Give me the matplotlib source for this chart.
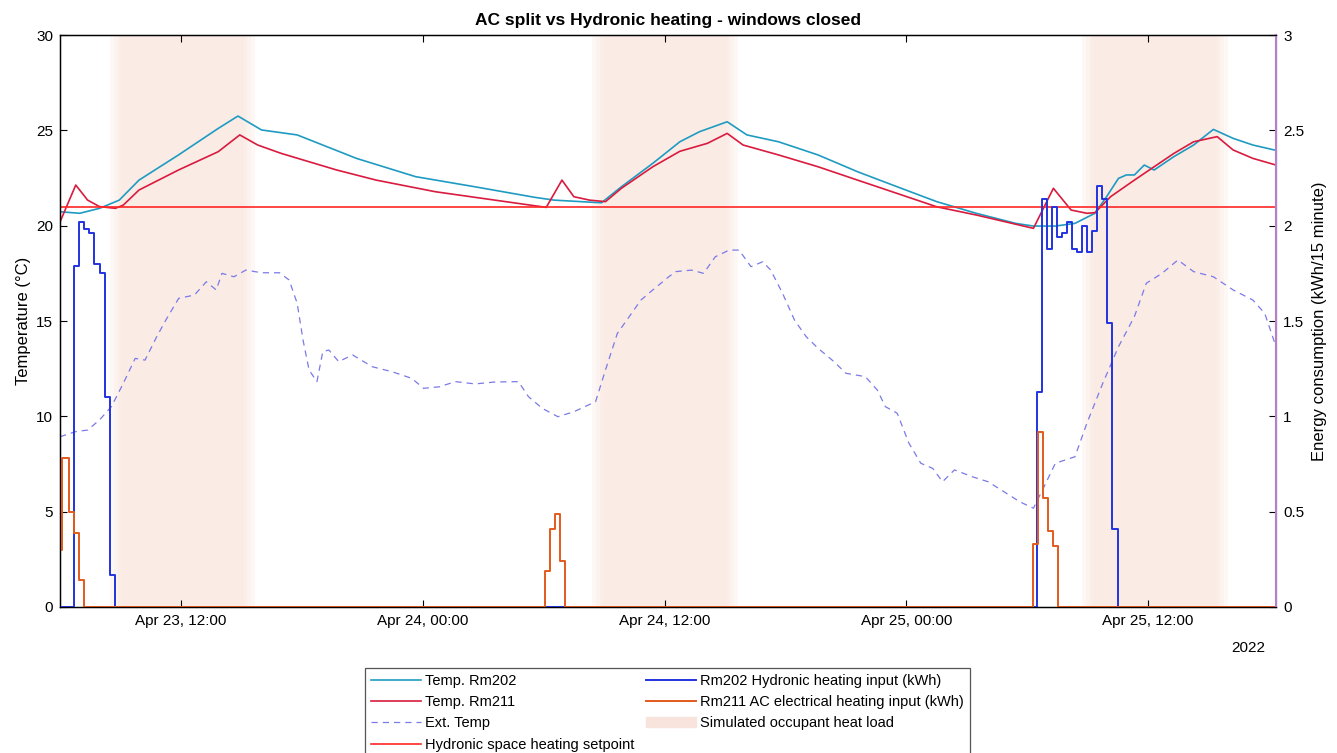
import pandas as pd
import matplotlib
matplotlib.use("Agg")
import matplotlib.pyplot as plt
import matplotlib.dates as mdates
from matplotlib.patches import Patch

plt.rcParams['font.family'] = ['Liberation Sans', 'DejaVu Sans']

# time is given in hours from 2022-04-23 00:00
t_start, t_end = 6.0, 66.35

rm202_h = [6.0, 6.98, 7.96, 8.94, 9.92, 11.88, 13.85, 14.83, 16.0, 17.77, 20.71, 23.65,
           26.59, 29.54, 30.52, 32.87, 33.86, 35.42, 36.76, 37.74, 39.11, 40.09, 41.66,
           43.62, 45.58, 47.55, 49.51, 51.47, 53.43, 54.31, 55.40, 56.37, 57.36, 57.94,
           58.53, 58.92, 59.32, 59.81, 60.30, 61.28, 62.26, 63.24, 64.22, 65.20, 66.35]
rm202_t = [20.73, 20.65, 20.91, 21.34, 22.39, 23.71, 25.1, 25.75, 25.02, 24.76, 23.53, 22.57,
           22.04, 21.49, 21.34, 21.2, 22.04, 23.27, 24.4, 24.93, 25.45, 24.76, 24.40,
           23.71, 22.83, 22.04, 21.26, 20.65, 20.12, 19.98, 19.98, 20.12, 20.65, 21.52,
           22.48, 22.66, 22.66, 23.18, 22.92, 23.62, 24.23, 25.05, 24.58, 24.23, 23.95]

rm211_h = [6.0, 6.78, 7.37, 7.96, 8.75, 9.14, 9.92, 11.88, 13.85, 14.92, 15.81, 16.98,
           19.73, 21.69, 24.63, 27.58, 30.13, 30.91, 31.5, 32.28, 33.07, 33.86, 35.42,
           36.76, 38.13, 39.11, 39.90, 41.66, 43.62, 45.58, 47.55, 49.51, 51.47, 54.31,
           55.30, 56.18, 56.96, 57.36, 58.14, 59.32, 61.28, 62.26, 63.43, 64.22, 65.20, 66.35]
rm211_t = [20.2, 22.13, 21.34, 21.0, 20.91, 21.08, 21.87, 22.92, 23.88, 24.76, 24.23, 23.79,
           22.92, 22.39, 21.78, 21.34, 20.96, 22.39, 21.52, 21.34, 21.26, 21.96, 23.09,
           23.9, 24.32, 24.84, 24.23, 23.71, 23.09, 22.39, 21.69, 20.99, 20.56, 19.86,
           21.96, 20.82, 20.65, 20.68, 21.52, 22.39, 23.79, 24.40, 24.67, 23.97, 23.53, 23.18]

ext_h = [6.0, 6.78, 7.37, 7.96, 8.55, 9.14, 9.73, 10.22, 10.80, 11.30, 11.89, 12.67, 13.26,
         13.75, 14.04, 14.63, 15.22, 16.0, 16.89, 17.37, 17.77, 18.06, 18.36, 18.75, 19.04,
         19.34, 19.83, 20.52, 21.50, 22.48, 23.46, 24.04, 24.83, 25.62, 26.60, 27.58, 28.75,
         29.25, 29.93, 30.71, 31.50, 32.58, 33.07, 33.66, 34.25, 34.83, 35.42, 36.21, 36.56,
         37.34, 37.94, 38.52, 39.21, 39.70, 40.29, 40.88, 41.27, 41.86, 42.45, 43.03, 43.62,
         44.41, 45.0, 45.97, 46.56, 46.96, 47.55, 48.13, 48.72, 49.31, 49.80, 50.39, 51.28,
         52.06, 52.84, 53.63, 54.31, 54.80, 55.40, 56.37, 56.96, 57.75, 58.53, 59.32, 59.91,
         60.69, 61.48, 62.26, 63.24, 64.22, 65.20, 65.79, 66.35]
ext_t = [8.93, 9.2, 9.28, 9.81, 10.51, 11.73, 13.04, 12.95, 14.18, 15.14, 16.19, 16.36, 17.06,
         16.63, 17.5, 17.32, 17.67, 17.53, 17.53, 17.15, 15.93, 14.0, 12.43, 11.82, 13.39,
         13.48, 12.87, 13.22, 12.6, 12.34, 11.99, 11.47, 11.55, 11.82, 11.7, 11.8, 11.82,
         11.03, 10.42, 9.98, 10.24, 10.77, 12.43, 14.35, 15.23, 16.1, 16.63, 17.32, 17.59,
         17.67, 17.5, 18.37, 18.72, 18.72, 17.85, 18.11, 17.67, 16.45, 15.05, 14.18, 13.57,
         12.87, 12.26, 12.08, 11.38, 10.51, 10.16, 8.59, 7.54, 7.27, 6.57, 7.19, 6.83,
         6.57, 6.05, 5.52, 5.18, 6.23, 7.54, 7.88, 9.63, 11.73, 13.65, 15.23, 16.98,
         17.5, 18.2, 17.59, 17.32, 16.63, 16.1, 15.4, 13.65]

setpoint = 21.0

# energy per 15 min (kWh), step values starting at the given hour
hyd_h = [6.0, 6.71, 6.96, 7.21, 7.46, 7.71, 7.96, 8.21, 8.46, 8.71,
         54.47, 54.72, 54.97, 55.22, 55.47, 55.72, 55.97, 56.22, 56.47, 56.72,
         56.97, 57.22, 57.47, 57.72, 57.97, 58.22, 58.50, 66.35]
hyd_e = [0.0, 1.79, 2.02, 1.98, 1.96, 1.80, 1.75, 1.10, 0.17, 0.0,
         1.13, 2.14, 1.88, 2.10, 1.94, 1.96, 2.02, 1.88, 1.86, 2.00,
         1.86, 1.97, 2.21, 2.14, 1.49, 0.41, 0.0, 0.0]

ac_h = [6.0, 6.11, 6.46, 6.71, 6.96, 7.21,
        30.08, 30.33, 30.58, 30.83, 31.08,
        54.29, 54.54, 54.79, 55.04, 55.29, 55.54, 66.35]
ac_e = [0.30, 0.78, 0.50, 0.39, 0.14, 0.0,
        0.19, 0.41, 0.49, 0.24, 0.0,
        0.33, 0.92, 0.57, 0.40, 0.32, 0.0, 0.0]

occ_start = [8.9, 32.8, 57.1]
occ_end = [15.3, 39.25, 63.55]

base = pd.Timestamp('2022-04-23')


def to_time(hours):
    return base + pd.to_timedelta(hours, unit='h')


c202 = '#1f9bc2'
c211 = '#d81b3e'
c_ext = '#7a7ae8'
c_set = '#ff2626'
c_hyd = '#2233e0'
c_ac = '#e35a1d'
c_occ = '#fae7df'

fig = plt.figure(figsize=(13.37, 7.53), dpi=100)
ax = fig.add_axes([0.0449, 0.1939, 0.9095, 0.7596])
ax2 = ax.twinx()

# soft edged occupancy bands
for s, e in zip(occ_start, occ_end):
    for d in [0.4, 0.2, 0.0, -0.15]:
        ax.axvspan(to_time(s - d), to_time(e + d), color=c_occ, alpha=0.3, lw=0)

l202, = ax.plot(to_time(rm202_h), rm202_t, color=c202, lw=1.2, label='Temp. Rm202')
l211, = ax.plot(to_time(rm211_h), rm211_t, color=c211, lw=1.2, label='Temp. Rm211')
lext, = ax.plot(to_time(ext_h), ext_t, color=c_ext, lw=0.9, ls=(0, (5, 4)), label='Ext. Temp')
lset = ax.axhline(setpoint, color=c_set, lw=1.2, label='Hydronic space heating setpoint')

lhyd, = ax2.plot(to_time(hyd_h), hyd_e, color=c_hyd, lw=1.4, drawstyle='steps-post',
                 label='Rm202 Hydronic heating input (kWh)')
lac, = ax2.plot(to_time(ac_h), ac_e, color=c_ac, lw=1.4, drawstyle='steps-post',
                label='Rm211 AC electrical heating input (kWh)')
occ_patch = Patch(color='#f8e4dc', label='Simulated occupant heat load')

ax.set_xlim(to_time(t_start), to_time(t_end))
ax.set_ylim(0, 30)
ax2.set_ylim(0, 3)
ax.set_yticks(range(0, 31, 5))
ax2.set_yticks([0, 0.5, 1, 1.5, 2, 2.5, 3])
ax2.set_yticklabels(['0', '0.5', '1', '1.5', '2', '2.5', '3'])

ax.xaxis.set_major_locator(mdates.HourLocator(byhour=[0, 12]))
ax.xaxis.set_major_formatter(mdates.DateFormatter('%b %d, %H:%M'))

ax.tick_params(axis='both', direction='in', length=5, labelsize=11, pad=5)
ax.tick_params(axis='x', top=True)
ax2.tick_params(axis='y', direction='in', length=5, labelsize=11, pad=5)

for sp in ['left', 'bottom', 'top']:
    ax.spines[sp].set_linewidth(1.0)
ax2.spines['right'].set_color('#b57fcb')
ax2.spines['right'].set_linewidth(1.5)

ax.set_ylabel('Temperature (\u00b0C)', fontsize=12, labelpad=4)
ax2.set_ylabel('Energy consumption (kWh/15 minute)', fontsize=12, labelpad=6)
ax.set_title('AC split vs Hydronic heating - windows closed', fontsize=12.5,
             fontweight='bold', pad=7)
ax.text(0.991, -0.072, '2022', transform=ax.transAxes, ha='right', va='center', fontsize=11)

handles = [l202, l211, lext, lset, lhyd, lac, occ_patch]
leg = fig.legend(handles=handles, labels=[h.get_label() for h in handles], ncol=2,
                 loc='upper center', bbox_to_anchor=(0.4993, 0.113), fontsize=10.5,
                 frameon=True, fancybox=False, edgecolor='#555555', framealpha=1,
                 handlelength=3.4, handletextpad=0.3, columnspacing=0.8,
                 labelspacing=0.5, borderpad=0.4, borderaxespad=0)
leg.get_frame().set_linewidth(0.9)

fig.savefig('out.png', dpi=100)
